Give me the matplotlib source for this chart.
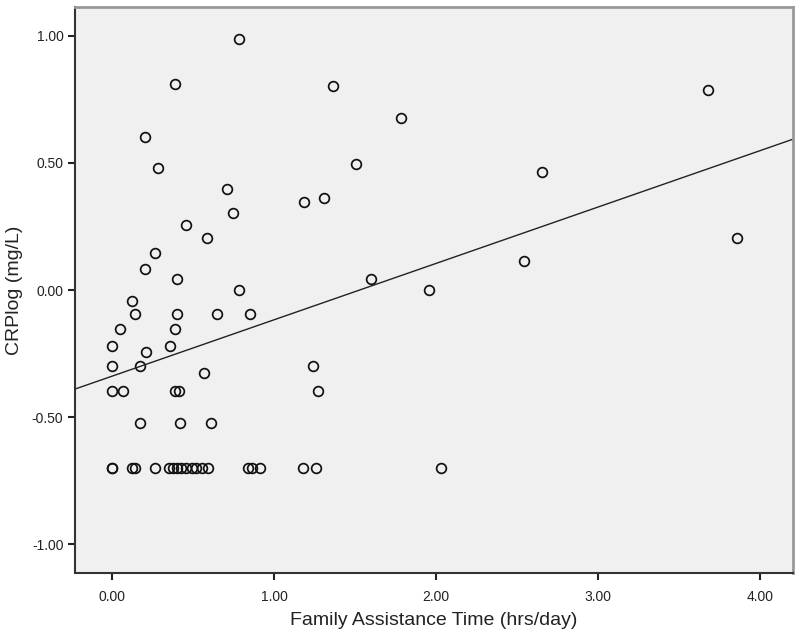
import matplotlib
matplotlib.use("Agg")
import matplotlib.pyplot as plt
import numpy as np
from matplotlib.ticker import FormatStrFormatter

# Family assistance time (hrs/day) vs CRPlog (mg/L)
assist_hrs = [
    0.78, 0.385, 0.20, 0.286, 0.71, 1.185, 1.31, 0.743, 0.457, 0.584,
    0.263, 0.202, 0.401, 0.78, 0.123,
    0.142, 0.403, 0.648, 0.848,
    0.049, 0.385, 0.0, 0.354, 0.208,
    0.0, 0.169, 1.241, 0.564,
    0.0, 0.066, 0.385, 0.412, 1.268,
    0.174, 0.417, 0.608,
    0.0, 0.0, 0.12, 0.14, 0.265, 0.35, 0.375, 0.40, 0.426, 0.455,
    0.49, 0.52, 0.554, 0.59, 0.837, 0.862, 0.912, 1.179, 1.256, 2.03,
    1.362, 1.784, 1.504, 2.652, 2.539, 1.595, 1.953, 3.675, 3.856,
]
crp_log = [
    0.989, 0.810, 0.604, 0.479, 0.399, 0.345, 0.363, 0.304, 0.256, 0.206,
    0.147, 0.081, 0.043, 0.0, -0.045,
    -0.096, -0.096, -0.096, -0.096,
    -0.155, -0.155, -0.22, -0.22, -0.243,
    -0.299, -0.299, -0.30, -0.328,
    -0.398, -0.398, -0.398, -0.398, -0.398,
    -0.525, -0.525, -0.525,
    -0.70, -0.70, -0.70, -0.70, -0.70, -0.70, -0.70, -0.70, -0.70, -0.70,
    -0.70, -0.70, -0.70, -0.70, -0.70, -0.70, -0.70, -0.70, -0.70, -0.70,
    0.803, 0.676, 0.495, 0.464, 0.116, 0.043, 0.0, 0.787, 0.206,
]

# fit line as drawn in the original (intercept, slope)
fit_intercept = -0.339
fit_slope = 0.222

x_ticks = [0.0, 1.0, 2.0, 3.0, 4.0]
y_ticks = [-1.0, -0.5, 0.0, 0.5, 1.0]

plt.rcParams['font.family'] = ['Liberation Sans', 'DejaVu Sans']

fig = plt.figure(figsize=(8, 6.36), dpi=100)
ax = fig.add_axes([0.094, 0.099, 0.897, 0.890])
ax.set_facecolor('#f0f0f0')

ax.plot(assist_hrs, crp_log, linestyle='none', marker='o', markersize=7.0,
        markerfacecolor='none', markeredgecolor='#111111', markeredgewidth=1.25)

xlim = (-0.228, 4.2)
xs = np.array(xlim)
ax.plot(xs, fit_intercept + fit_slope * xs, color='#222222', linewidth=1.0)

ax.set_xlim(*xlim)
ax.set_ylim(-1.114, 1.114)
ax.set_xticks(x_ticks)
ax.set_yticks(y_ticks)
ax.xaxis.set_major_formatter(FormatStrFormatter('%.2f'))
ax.yaxis.set_major_formatter(FormatStrFormatter('%.2f'))
ax.tick_params(axis='both', labelsize=10, colors='#222222', length=5, width=1.5)
ax.tick_params(axis='x', pad=7)

ax.spines['left'].set_color('#333333')
ax.spines['bottom'].set_color('#333333')
ax.spines['left'].set_linewidth(1.5)
ax.spines['bottom'].set_linewidth(1.5)
ax.spines['top'].set_color('#999999')
ax.spines['right'].set_color('#999999')
ax.spines['top'].set_linewidth(2)
ax.spines['right'].set_linewidth(2)

ax.set_xlabel('Family Assistance Time (hrs/day)', fontsize=14, color='#222222', labelpad=6)
ax.set_ylabel('CRPlog (mg/L)', fontsize=14, color='#222222', labelpad=6)

fig.savefig('out.png', dpi=100, facecolor='white')
